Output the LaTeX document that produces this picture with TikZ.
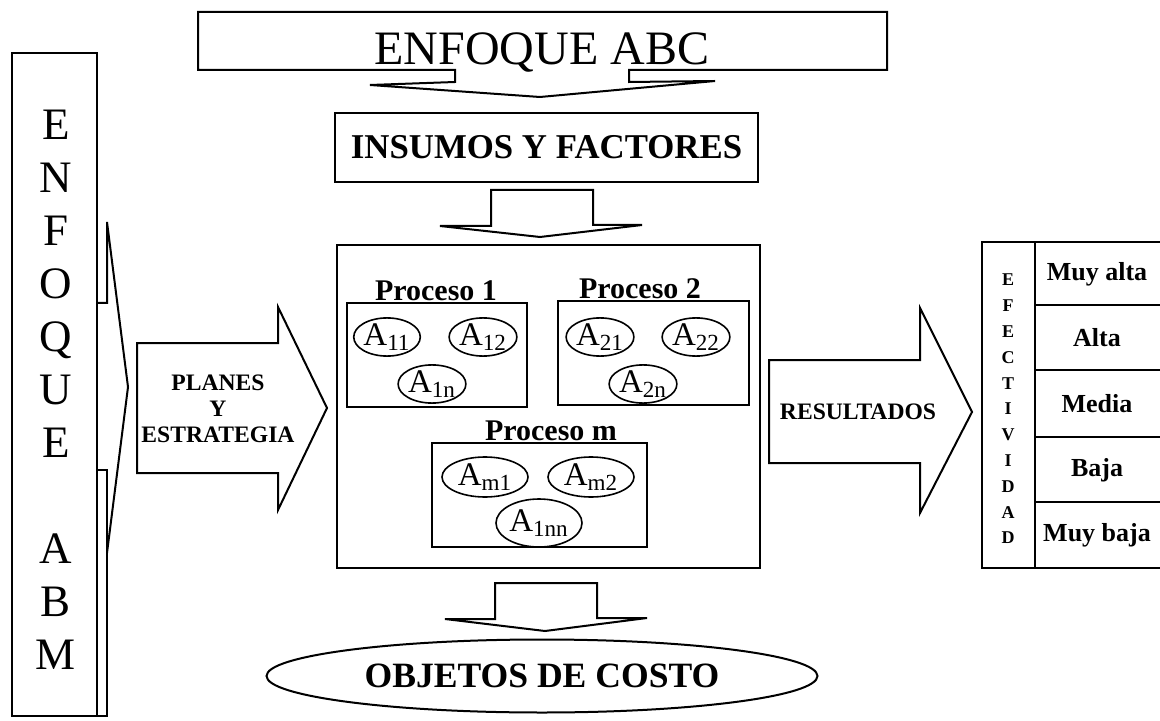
\documentclass[tikz,border=0pt]{standalone}
\usepackage{fontspec}
\setmainfont{Liberation Serif}
\usepackage{tikz}
\usetikzlibrary{shapes.geometric}
\tikzset{act/.style={draw,ellipse,line width=0.8pt,inner sep=0pt,minimum width=30pt,minimum height=17pt,font=\fontsize{16.5}{16.5}\selectfont}}
\tikzset{actw/.style={act,minimum width=43pt,minimum height=20pt}}
\tikzset{proc/.style={anchor=base,font=\bfseries\fontsize{15}{15}\selectfont}}
\tikzset{cell/.style={font=\bfseries\fontsize{13}{13}\selectfont}}
\tikzset{arr/.style={font=\bfseries\fontsize{11.8}{13}\selectfont,align=center}}

\begin{document}
\begin{tikzpicture}[x=0.5pt,y=-0.5pt,line width=1pt]
        \useasboundingbox (0,0) rectangle (1160,721);
        % ABC box and its arrow
        \draw (198,12) -- (887,12) -- (887,70) -- (629,70) -- (629,82) -- (715,81) -- (540,97)
          -- (370,85) -- (455,82) -- (455,70) -- (198,70) -- cycle;
        \node (abc) [anchor=base,font=\fontsize{24}{24}\selectfont] at (542,65) {ENFOQUE ABC};
        \node (ins) [draw,minimum width=211.5pt,minimum height=34.5pt,font=\bfseries\fontsize{17.4}{17.4}\selectfont] at (546.5,147.5) {INSUMOS Y FACTORES};
        \draw (491,190) -- (593,190) -- (593,225) -- (642,225) -- (540,237) -- (440,226) -- (491,226) -- cycle;
        % ABM box and its arrow
        \draw (12,53) rectangle (97,716);
        \node (abm) [align=center,font=\fontsize{22.5}{26.5}\selectfont] at (56,390)
          {E\\N\\F\\O\\Q\\U\\E\\[26.5pt]A\\B\\M};
        \draw (97,303) -- (107,303) -- (107,222) -- (128,387) -- (107,553);
        \draw (97,470) -- (107,470) -- (107,716) -- (97,716);
        \draw (137,343) -- (278,343) -- (278,307) -- (327,408) -- (278,510) -- (278,473) -- (137,473) -- cycle;
        \node (pla) [arr] at (218,409) {PLANES\\Y\\ESTRATEGIA};
        % processes
        \draw (337,245) rectangle (760,568);
        \draw (347,303) rectangle (527,407);
        \draw (558,301) rectangle (749,405);
        \draw (432,443) rectangle (647,547);
        \node (p1) [proc] at (436,300) {Proceso 1};
        \node (p2) [proc] at (640,299) {Proceso 2};
        \node (pm) [proc] at (551,440) {Proceso m};
        \node (a11) [act] at (387,337) {A\textsubscript{11}};
        \node (a12) [act] at (483,337) {A\textsubscript{12}};
        \node (a1n) [act] at (432,384) {A\textsubscript{1n}};
        \node (a21) [act] at (600,337) {A\textsubscript{21}};
        \node (a22) [act] at (696,337) {A\textsubscript{22}};
        \node (a2n) [act] at (643,384) {A\textsubscript{2n}};
        \node (am1) [actw] at (485,477) {A\textsubscript{m1}};
        \node (am2) [actw] at (591,477) {A\textsubscript{m2}};
        \node (a1nn) [actw,minimum height=24pt] at (539,523) {A\textsubscript{1nn}};
        % cost objects
        \draw (495,583) -- (597,583) -- (597,618) -- (647,618) -- (545,631) -- (445,619) -- (495,619) -- cycle;
        \node (obj) [draw,ellipse,minimum width=275.5pt,minimum height=36.5pt,font=\bfseries\fontsize{17.8}{17.8}\selectfont] at (542,676) {OBJETOS DE COSTO};
        % results
        \draw (769,360) -- (920,360) -- (920,308) -- (972,412) -- (920,513) -- (920,463) -- (769,463) -- cycle;
        \node (res) [arr] at (858,412) {RESULTADOS};
        \draw (982,242) rectangle (1175,568);
        \draw (1035,242) -- (1035,568);
        \foreach \y in {305,370,437,502}
          \draw (1035,\y) -- (1175,\y);
        \node (efe) [align=center,font=\bfseries\fontsize{9}{12.9}\selectfont] at (1008,409)
          {E\\F\\E\\C\\T\\I\\V\\I\\D\\A\\D};
        \node (r1) [cell] at (1097,274) {Muy alta};
        \node (r2) [cell] at (1097,338) {Alta};
        \node (r3) [cell] at (1097,404) {Media};
        \node (r4) [cell] at (1097,470) {Baja};
        \node (r5) [cell] at (1097,535) {Muy baja};
\end{tikzpicture}
\end{document}
